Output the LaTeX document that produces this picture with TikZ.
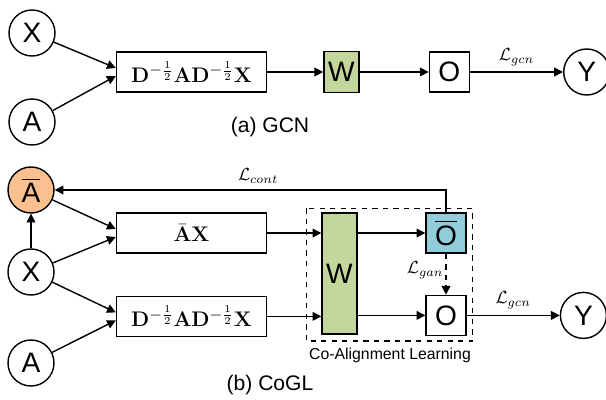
\documentclass[tikz,border=0pt]{standalone}
\usepackage{amsmath}
\usepackage[no-math]{fontspec}
\setmainfont{Liberation Sans}
\usetikzlibrary{arrows.meta, positioning}

\definecolor{wgreen}{HTML}{C3D69B}
\definecolor{oblue}{HTML}{92CDDC}
\definecolor{aorange}{HTML}{FAC090}

\begin{document}
\begin{tikzpicture}[
            line width=0.8pt,
            var/.style={circle, draw, minimum size=0.92cm, inner sep=0pt, font=\fontsize{16}{18}\selectfont},
            box/.style={rectangle, draw, minimum width=3.0cm, minimum height=0.8cm, inner sep=0pt, font=\fontsize{13}{15}\selectfont},
            wbox/.style={rectangle, draw, fill=wgreen, minimum width=0.7cm, minimum height=0.82cm, inner sep=0pt, font=\fontsize{16}{18}\selectfont},
            obox/.style={rectangle, draw, minimum width=0.8cm, minimum height=0.8cm, inner sep=0pt, font=\fontsize{16}{18}\selectfont},
            arrow/.style={-{Triangle[length=5pt, width=5pt]}}
        ]
        \useasboundingbox (0,0) rectangle (12.12,-8);

        % (a) GCN
        \node[var] (x1) at (0.64,-0.66) {X};
        \node[var] (a1) at (0.64,-2.44) {A};
        \node[box] (norm1) at (3.83,-1.44) {$\mathbf{D}^{-\frac{1}{2}}\mathbf{A}\mathbf{D}^{-\frac{1}{2}}\mathbf{X}$};
        \node[wbox, right=1.12cm of norm1] (w1) {W};
        \node[obox, right=1.38cm of w1] (o1) {O};
        \node[var, right=1.86cm of o1] (y1) {Y};
        \draw[arrow] (x1) -- ([yshift=0.08cm]norm1.west);
        \draw[arrow] (a1) -- ([yshift=-0.08cm]norm1.west);
        \draw[arrow] (norm1) -- (w1);
        \draw[arrow] (w1) -- (o1);
        \draw[arrow] (o1) -- node[above] {$\mathcal{L}_{gcn}$} (y1);
        \node[font=\fontsize{12}{14}\selectfont] (capa) at (5.4,-2.54) {(a) GCN};

        % (b) CoGL
        \node[var, fill=aorange] (abar) at (0.62,-3.8) {$\overline{\text{A}}$};
        \node[var] (x2) at (0.62,-5.44) {X};
        \node[var] (a2) at (0.62,-7.26) {A};
        \node[box] (abx) at (3.83,-4.66) {$\bar{\mathbf{A}}\mathbf{X}$};
        \node[box, below=0.84cm of abx] (norm2) {$\mathbf{D}^{-\frac{1}{2}}\mathbf{A}\mathbf{D}^{-\frac{1}{2}}\mathbf{X}$};
        \node[wbox, minimum height=2.42cm] (w2) at (6.79,-5.47) {W};
        \node[obox, fill=oblue] (obar) at (8.92,-4.66) {$\overline{\text{O}}$};
        \node[obox, below=0.82cm of obar] (o2) {O};
        \node[var, right=1.86cm of o2] (y2) {Y};

        \draw[arrow] (x2) -- (abar);
        \draw[arrow] (abar) -- ([yshift=0.08cm]abx.west);
        \draw[arrow] (x2) -- ([yshift=-0.08cm]abx.west);
        \draw[arrow] (x2) -- ([yshift=0.08cm]norm2.west);
        \draw[arrow] (a2) -- ([yshift=-0.08cm]norm2.west);
        \draw[arrow] (abx) -- (abx -| w2.west);
        \draw[arrow] (norm2) -- (norm2 -| w2.west);
        \draw[arrow] (w2.east |- obar) -- (obar);
        \draw[arrow] (w2.east |- o2) -- (o2);
        \draw[arrow, dashed] (obar) -- node[left, pos=0.4, inner sep=1pt] {$\mathcal{L}_{gan}$} (o2);
        \draw[arrow] (o2) -- node[above] {$\mathcal{L}_{gcn}$} (y2);
        \draw[arrow] (obar.north) |- node[pos=0.74, above] {$\mathcal{L}_{cont}$} (abar);

        % Co-Alignment Learning block
        \coordinate (cal1) at ([xshift=-0.3cm, yshift=0.08cm]w2.north west);
        \coordinate (cal2) at ([xshift=0.12cm, yshift=-0.1cm]o2.south east);
        \draw[dashed] (cal1) rectangle (cal2);
        \node[font=\fontsize{9}{11}\selectfont] (calname) at (7.8,-7.1) {Co-Alignment Learning};
        \node[font=\fontsize{12}{14}\selectfont] (capb) at (5.4,-7.7) {(b) CoGL};

    \end{tikzpicture}
\end{document}
